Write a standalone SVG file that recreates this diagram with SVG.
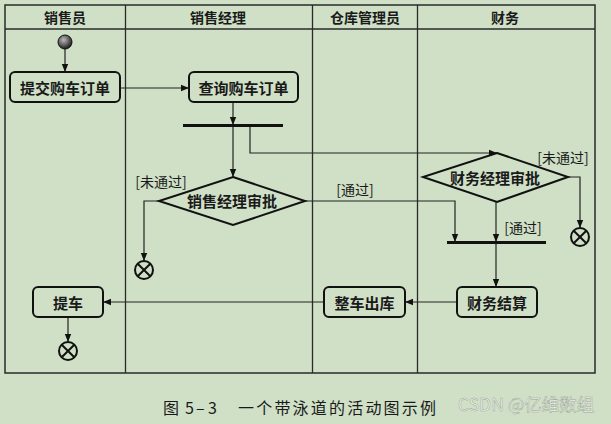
<svg xmlns="http://www.w3.org/2000/svg" width="611" height="424" viewBox="0 0 611 424">
<style>
.frame{fill:none;stroke:#2a2a2a;stroke-width:1.5}
.lane{stroke:#2a2a2a;stroke-width:1.3}
.act{fill:none;stroke:#111;stroke-width:2}
.dec{fill:none;stroke:#111;stroke-width:2}
.bar{stroke:#111;stroke-width:3}
.edge{fill:none;stroke:#222;stroke-width:1.2}
.t{font-family:"Noto Sans CJK SC","Noto Sans",sans-serif;fill:#1a1a1a;text-anchor:middle;dominant-baseline:central}
.h{font-size:14px;font-weight:bold}
.n{font-size:15px;font-weight:bold}
.g{font-size:14px}
.end{fill:none;stroke:#111;stroke-width:2}
.cap{font-family:"Noto Sans CJK SC",sans-serif;font-size:16px;fill:#1a1a1a}
</style>
<defs>
<marker id="arr" viewBox="0 0 10 10" refX="10" refY="5" markerWidth="10" markerHeight="8" markerUnits="userSpaceOnUse" orient="auto">
<path d="M0,1 L10,5 L0,9 Z" fill="#111"/>
</marker>
<radialGradient id="ini" cx="0.4" cy="0.35" r="0.7">
<stop offset="0" stop-color="#bbbbbb"/>
<stop offset="1" stop-color="#111"/>
</radialGradient>
<g id="endsym">
<circle r="9" class="end"/>
<path d="M-6.3,-6.3 L6.3,6.3 M6.3,-6.3 L-6.3,6.3" stroke="#111" stroke-width="2"/>
</g>
</defs>
<rect width="611" height="424" fill="#cfe0c6"/>
<g id="swimlanes">
<rect x="5" y="5" width="590" height="368" class="frame"/>
<line x1="5" y1="29" x2="595" y2="29" class="lane"/>
<line x1="125.5" y1="5" x2="125.5" y2="373" class="lane"/>
<line x1="312.5" y1="5" x2="312.5" y2="373" class="lane"/>
<line x1="417.5" y1="5" x2="417.5" y2="373" class="lane"/>
<text x="65" y="17" class="t h">销售员</text>
<text x="218" y="17" class="t h">销售经理</text>
<text x="365" y="17" class="t h">仓库管理员</text>
<text x="505" y="17" class="t h">财务</text>
</g>
<g id="connectors">
<path d="M65,49 V72" class="edge" marker-end="url(#arr)"/>
<path d="M120,88 H189" class="edge" marker-end="url(#arr)"/>
<path d="M233,102 V125" class="edge" marker-end="url(#arr)"/>
<path d="M233,126 V177" class="edge" marker-end="url(#arr)"/>
<path d="M250,126 V153 H497" class="edge" marker-end="url(#arr)"/>
<path d="M159,201 H144 V261" class="edge" marker-end="url(#arr)"/>
<path d="M305,201 H455 V242" class="edge" marker-end="url(#arr)"/>
<path d="M568,177 H580 V228" class="edge" marker-end="url(#arr)"/>
<path d="M496,202 V242" class="edge" marker-end="url(#arr)"/>
<path d="M496,243 V287" class="edge" marker-end="url(#arr)"/>
<path d="M457,302 H405" class="edge" marker-end="url(#arr)"/>
<path d="M324,302 H103" class="edge" marker-end="url(#arr)"/>
<path d="M68,317 V342" class="edge" marker-end="url(#arr)"/>
</g>
<g id="start"><circle cx="65" cy="42" r="7" fill="url(#ini)" stroke="#111" stroke-width="1"/></g>
<g id="submit"><rect x="10" y="72" width="110" height="30" rx="5" class="act"/><text x="65" y="87" class="t n">提交购车订单</text></g>
<g id="query"><rect x="189" y="72" width="109" height="30" rx="5" class="act"/><text x="243.5" y="87" class="t n">查询购车订单</text></g>
<g id="fork"><line x1="183" y1="125.5" x2="283" y2="125.5" class="bar"/></g>
<g id="salesDecision"><path d="M233,177 L305,201 L233,225 L159,201 Z" class="dec"/><text x="232" y="200" class="t n">销售经理审批</text></g>
<g id="financeDecision"><path d="M497,153 L568,177 L497,202 L423,177 Z" class="dec"/><text x="495" y="177" class="t n">财务经理审批</text></g>
<g id="join"><line x1="447" y1="242.5" x2="546" y2="242.5" class="bar"/></g>
<g id="end1"><use href="#endsym" x="144" y="270"/></g>
<g id="end2"><use href="#endsym" x="580" y="237"/></g>
<g id="settle"><rect x="457" y="287" width="80" height="30" rx="5" class="act"/><text x="497" y="302" class="t n">财务结算</text></g>
<g id="ship"><rect x="324" y="287" width="81" height="30" rx="5" class="act"/><text x="364.5" y="302" class="t n">整车出库</text></g>
<g id="pickup"><rect x="33" y="287" width="70" height="30" rx="5" class="act"/><text x="68" y="302" class="t n">提车</text></g>
<g id="end3"><use href="#endsym" x="68" y="351"/></g>
<g id="labels">
<text x="161" y="181" class="t g">[未通过]</text>
<text x="355" y="189" class="t g">[通过]</text>
<text x="563" y="157" class="t g">[未通过]</text>
<text x="523" y="227" class="t g">[通过]</text>
</g>
<g id="caption">
<text y="414" class="cap"><tspan x="163">图</tspan><tspan x="185">5</tspan><tspan x="196">–</tspan><tspan x="208">3</tspan></text>
<text x="238" y="414" class="cap" style="letter-spacing:2.2px">一个带泳道的活动图示例</text>
<text x="458" y="411" style="font-family:'Noto Sans CJK SC',sans-serif;font-size:17.5px;fill:#f2f4ef;stroke:#9aa595;stroke-width:0.5">CSDN @亿维数组</text>
</g>
</svg>
